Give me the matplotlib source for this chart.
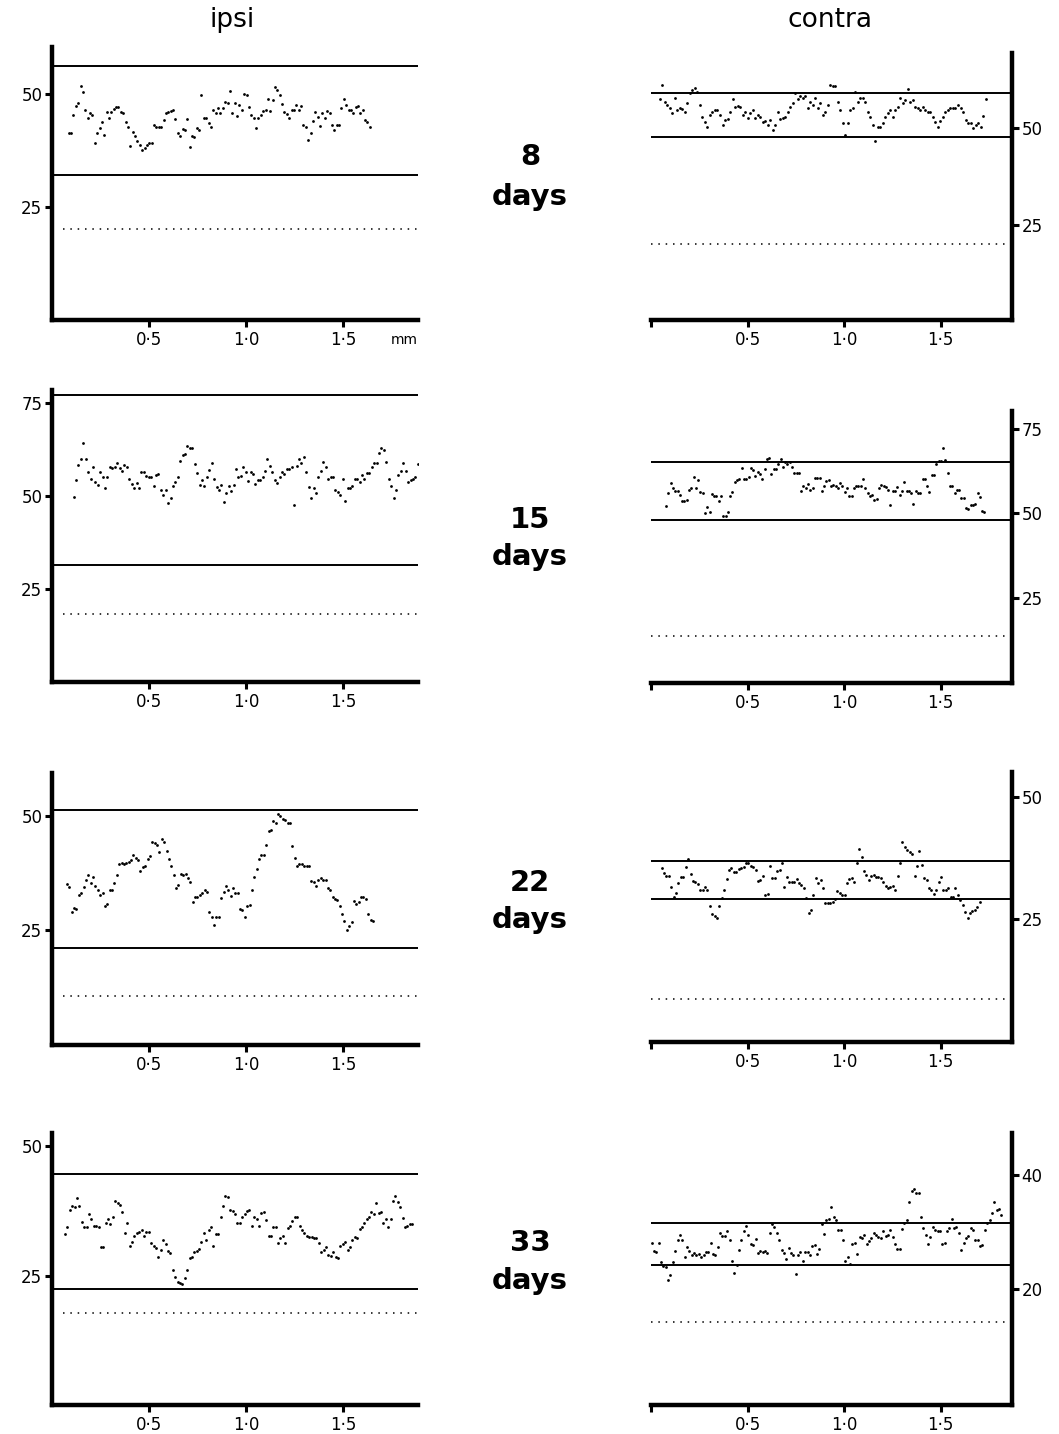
import numpy as np
import matplotlib
matplotlib.use("Agg")
import matplotlib.pyplot as plt

plt.rcParams['font.family'] = ['DejaVu Sans']

# ---------------- data: grain density along the track (mm) ----------------
# ipsi / contra for each survival time; each profile is sampled at even steps
ipsi_8_span = (0.086, 1.637)
ipsi_8 = [41.4, 41.3, 45.4, 47.3, 48.0, 51.8, 50.5, 46.5, 44.6, 45.7, 45.4, 39.1, 41.3, 42.4, 43.7,
          40.9, 46.1, 44.6, 46.1, 46.6, 47.2, 47.2, 46.1, 45.7, 43.9, 42.8, 38.5, 41.7, 40.6, 39.5,
          38.7, 37.6, 38.0, 38.7, 39.1, 39.2, 43.1, 42.6, 42.8, 42.8, 44.2, 45.7, 46.0, 46.3, 46.5,
          44.4, 41.3, 40.7, 42.2, 42.0, 44.4, 38.3, 40.6, 40.4, 42.4, 42.0, 49.8, 44.6, 44.8, 43.5,
          42.8, 46.5, 45.9, 46.8, 45.7, 46.8, 48.3, 48.1, 50.7, 45.7, 47.9, 45.1, 47.6, 46.5, 50.0,
          49.8, 47.1, 45.4, 44.6, 42.4, 44.6, 45.4, 46.3, 46.5, 48.8, 46.2, 48.7, 51.5, 50.9, 49.8,
          47.8, 46.1, 45.6, 44.6, 46.5, 46.5, 47.6, 46.5, 47.3, 43.1, 42.8, 39.8, 41.4, 44.1, 46.1,
          45.0, 42.9, 45.9, 44.6, 46.3, 45.9, 43.1, 42.0, 43.1, 43.1, 46.8, 49.0, 47.6, 46.5, 46.5,
          45.9, 47.1, 47.3, 45.7, 46.5, 44.2, 43.7, 42.8]
ipsi_8_levels = (56.2, 32.1, 20.1)

contra_8_span = (0.046, 1.733)
contra_8 = [57.4, 61.1, 56.8, 55.9, 55.1, 53.8, 57.6, 54.6, 55.1, 54.8, 54.2, 56.4, 58.9, 59.8, 60.2,
            59.3, 55.9, 52.7, 51.4, 50.3, 53.4, 54.2, 54.5, 54.6, 53.4, 50.8, 52.1, 52.2, 54.2, 57.4,
            55.5, 55.7, 55.5, 53.4, 54.2, 52.5, 53.8, 54.6, 52.5, 53.4, 52.7, 51.6, 51.9, 50.8, 52.1,
            49.5, 50.8, 54.2, 52.2, 52.5, 52.9, 54.2, 55.3, 56.5, 58.9, 57.4, 58.1, 57.6, 58.2, 55.1,
            56.8, 55.9, 57.6, 55.1, 56.4, 53.4, 54.2, 55.9, 61.1, 60.7, 60.7, 56.8, 54.6, 51.2, 48.2,
            51.2, 54.6, 55.1, 59.3, 56.8, 57.6, 57.6, 56.8, 54.2, 52.9, 50.8, 46.5, 50.2, 50.3, 51.2,
            52.9, 53.8, 54.6, 52.7, 54.5, 55.3, 57.6, 56.5, 57.2, 60.0, 56.8, 57.2, 55.5, 55.1, 54.6,
            55.3, 54.5, 54.2, 54.2, 52.9, 51.6, 50.3, 51.9, 52.7, 54.2, 54.6, 55.1, 55.1, 55.1, 55.9,
            55.1, 54.2, 52.1, 51.2, 51.2, 49.9, 50.8, 51.2, 50.3, 53.1, 57.4]
contra_8_levels = (58.9, 47.7, 20.2)

ipsi_15_span = (0.111, 1.884)
ipsi_15 = [49.8, 54.3, 58.3, 59.9, 64.2, 59.9, 56.5, 54.5, 57.7, 53.9, 53.0, 56.5, 55.0, 52.1, 55.0,
           57.7, 57.4, 57.7, 58.9, 57.4, 56.8, 58.3, 57.7, 54.7, 53.2, 52.1, 53.6, 52.1, 56.5, 56.5,
           55.4, 55.0, 55.0, 52.7, 55.6, 55.9, 51.6, 50.3, 51.6, 48.2, 49.4, 52.7, 53.9, 55.2, 59.5,
           61.0, 61.3, 63.4, 62.8, 62.8, 58.6, 56.1, 53.0, 54.3, 52.7, 55.2, 57.0, 58.9, 54.5, 52.5,
           51.6, 53.0, 48.5, 50.9, 52.7, 51.4, 53.0, 57.2, 55.0, 55.4, 57.7, 56.5, 54.1, 56.5, 55.9,
           53.2, 54.3, 54.3, 55.2, 56.8, 59.9, 58.1, 56.5, 54.3, 53.4, 55.0, 56.5, 55.9, 57.2, 57.2,
           57.9, 47.6, 58.1, 59.9, 58.8, 60.4, 56.5, 52.5, 49.4, 52.1, 50.7, 55.2, 56.8, 59.2, 57.7,
           54.5, 55.0, 55.0, 51.6, 51.2, 50.3, 54.5, 48.7, 52.1, 52.1, 52.7, 54.5, 54.7, 53.9, 55.6,
           54.5, 56.1, 56.3, 57.7, 58.8, 58.9, 61.6, 62.8, 62.5, 59.2, 54.7, 52.7, 49.4, 51.6, 55.6,
           56.8, 58.8, 56.8, 53.9, 54.3, 54.5, 55.2, 58.6]
ipsi_15_levels = (77.2, 31.5, 18.3)

contra_15_span = (0.078, 1.727)
contra_15 = [52.3, 56.0, 59.0, 57.5, 56.5, 56.5, 55.5, 53.6, 53.6, 53.9, 57.0, 57.5, 60.8, 57.5, 60.0,
             56.2, 56.0, 50.1, 51.9, 50.3, 55.8, 55.0, 55.0, 53.6, 55.2, 49.1, 49.1, 50.3, 55.0, 56.2,
             59.2, 60.0, 60.2, 63.5, 60.2, 60.2, 60.8, 63.5, 62.8, 61.0, 62.2, 61.5, 60.2, 63.0, 66.1,
             66.4, 61.5, 63.0, 63.2, 64.5, 66.0, 63.8, 65.1, 64.5, 65.1, 63.8, 62.0, 62.0, 62.0, 56.5,
             58.2, 57.5, 58.8, 57.0, 57.5, 60.5, 60.5, 60.5, 56.5, 58.0, 59.5, 59.8, 58.0, 58.5, 58.0,
             57.5, 59.0, 58.0, 56.2, 57.5, 55.0, 55.0, 57.5, 58.0, 58.2, 58.0, 60.2, 57.5, 56.0, 55.0,
             55.5, 54.1, 54.3, 57.5, 58.5, 58.0, 57.8, 57.0, 52.6, 56.5, 56.5, 57.8, 55.5, 56.5, 59.2,
             56.5, 56.5, 56.0, 52.9, 56.5, 56.0, 56.0, 60.2, 60.2, 58.2, 56.2, 61.2, 61.2, 64.5, 65.4,
             65.4, 69.4, 65.7, 61.8, 58.2, 58.2, 56.0, 57.0, 57.0, 54.6, 54.6, 51.6, 51.3, 52.6, 52.6,
             52.9, 56.0, 54.9, 50.6, 50.3]
contra_15_levels = (65.1, 48.1, 14.0)

ipsi_22_span = (0.077, 1.653)
ipsi_22 = [35.0, 34.4, 29.0, 29.7, 29.5, 32.6, 33.0, 34.4, 36.0, 37.0, 35.2, 36.6, 34.6, 33.6, 32.6,
           33.0, 30.1, 30.6, 33.7, 33.6, 35.2, 37.0, 39.5, 39.7, 39.5, 39.7, 39.9, 40.3, 41.4, 40.6,
           40.3, 37.9, 38.7, 38.9, 40.4, 41.1, 44.1, 43.9, 43.5, 42.1, 44.8, 44.3, 42.3, 40.4, 38.9,
           37.0, 34.1, 34.8, 37.3, 37.0, 37.3, 36.3, 35.5, 31.1, 32.2, 32.1, 32.6, 33.1, 33.6, 33.3,
           29.0, 27.7, 26.0, 27.7, 27.9, 31.9, 33.3, 34.6, 33.8, 32.4, 34.1, 33.1, 33.0, 29.5, 29.3,
           27.7, 30.1, 30.4, 33.7, 36.6, 38.2, 40.4, 41.4, 41.4, 43.5, 46.7, 46.8, 48.7, 48.4, 50.3,
           49.9, 49.2, 49.0, 48.4, 48.3, 43.3, 40.8, 38.9, 39.5, 39.4, 38.9, 38.9, 38.9, 35.7, 35.5,
           34.6, 35.9, 36.3, 35.9, 35.9, 34.1, 33.8, 32.1, 31.7, 31.5, 30.1, 28.4, 27.0, 24.9, 25.8,
           26.6, 31.4, 30.6, 31.1, 32.2, 32.1, 31.7, 28.4, 27.1, 27.0]
ipsi_22_levels = (51.3, 21.1, 10.5)

contra_22_span = (0.055, 1.702)
contra_22 = [35.5, 34.4, 33.9, 33.9, 31.7, 29.6, 30.3, 32.5, 33.6, 33.6, 35.7, 37.3, 34.3, 32.9, 32.7,
             32.2, 31.0, 31.0, 31.6, 31.0, 27.7, 26.1, 25.7, 25.2, 27.7, 29.3, 30.9, 33.2, 35.1, 35.5,
             34.6, 34.6, 35.2, 35.5, 35.8, 36.5, 36.6, 35.9, 35.7, 35.1, 32.9, 33.1, 33.9, 30.0, 30.2,
             35.9, 33.4, 33.4, 34.8, 35.1, 36.5, 31.7, 33.6, 32.7, 32.7, 32.7, 33.2, 32.5, 32.0, 31.3,
             29.3, 26.2, 26.9, 30.0, 33.4, 32.5, 33.1, 31.3, 28.4, 28.3, 28.4, 28.6, 29.1, 30.7, 30.3,
             30.0, 30.0, 32.4, 33.2, 33.4, 32.7, 36.5, 39.4, 37.7, 34.8, 34.1, 33.1, 33.9, 34.1, 33.7,
             33.6, 33.4, 32.7, 31.8, 31.3, 31.7, 31.8, 31.0, 33.9, 36.6, 40.9, 39.8, 39.1, 38.7, 38.4,
             33.9, 35.9, 38.9, 36.1, 33.4, 33.1, 31.3, 30.9, 30.2, 31.0, 32.7, 33.7, 30.9, 30.9, 31.3,
             29.6, 29.5, 31.3, 30.0, 29.0, 27.9, 26.4, 25.2, 26.2, 26.6, 26.9, 27.6, 28.6]
contra_22_levels = (37.0, 29.1, 8.7)

ipsi_33_span = (0.067, 1.855)
ipsi_33 = [33.1, 34.5, 37.7, 38.4, 38.2, 40.0, 38.5, 35.3, 34.4, 34.5, 36.9, 35.9, 34.6, 34.6, 34.5,
           30.6, 30.6, 35.1, 35.9, 35.0, 36.3, 39.5, 39.1, 38.7, 37.4, 33.3, 35.1, 30.8, 31.6, 32.6,
           33.2, 33.5, 33.8, 32.6, 33.5, 33.5, 31.4, 30.8, 30.3, 28.7, 30.0, 32.0, 31.1, 29.7, 29.3,
           26.1, 24.7, 23.7, 23.5, 23.4, 24.5, 26.1, 28.4, 28.7, 29.5, 29.7, 30.1, 31.6, 33.2, 32.0,
           33.8, 34.4, 30.8, 33.1, 33.1, 36.3, 38.5, 40.4, 40.3, 37.8, 37.6, 36.9, 35.1, 35.1, 36.4,
           36.9, 37.6, 37.7, 34.6, 36.4, 36.0, 34.6, 37.2, 37.4, 35.8, 32.7, 32.6, 34.4, 34.4, 31.4,
           32.2, 32.7, 31.4, 34.2, 34.6, 35.5, 36.3, 36.4, 34.6, 33.8, 33.2, 32.6, 32.4, 32.4, 32.2,
           32.2, 31.4, 29.5, 29.9, 30.6, 29.0, 28.8, 29.5, 28.6, 28.4, 30.8, 31.1, 31.6, 30.0, 30.6,
           32.0, 32.4, 32.2, 34.0, 34.4, 35.1, 35.9, 36.4, 37.4, 36.9, 39.0, 37.2, 37.4, 35.1, 35.9,
           34.5, 35.9, 39.5, 40.4, 39.3, 38.2, 36.1, 34.4, 34.6, 35.0, 35.0]
ipsi_33_levels = (44.7, 22.4, 17.7)

contra_33_span = (0.003, 1.815)
contra_33 = [28.0, 26.7, 26.5, 28.0, 24.6, 23.9, 23.8, 21.5, 22.4, 24.6, 26.7, 28.5, 29.5, 28.6, 25.6,
             27.4, 26.7, 25.9, 26.2, 25.9, 26.1, 25.5, 25.9, 26.4, 26.5, 28.0, 26.1, 25.9, 27.4, 29.8,
             29.2, 29.2, 30.1, 28.5, 24.8, 22.8, 24.2, 26.8, 28.5, 30.1, 31.1, 29.5, 27.9, 27.7, 28.7,
             26.2, 26.7, 26.4, 26.7, 26.2, 29.8, 31.4, 30.8, 29.8, 28.5, 26.8, 26.2, 25.2, 27.1, 26.2,
             25.9, 22.6, 25.9, 26.4, 24.8, 26.4, 26.4, 25.9, 27.5, 27.7, 26.1, 26.9, 31.4, 29.6, 32.0,
             32.2, 34.4, 32.6, 32.0, 30.4, 30.4, 28.5, 24.8, 25.6, 24.4, 27.9, 28.0, 26.1, 29.1, 28.9,
             29.5, 27.9, 28.3, 28.9, 29.8, 29.5, 29.1, 28.9, 30.2, 29.3, 29.5, 30.4, 29.1, 27.9, 26.9,
             26.9, 30.5, 31.5, 32.1, 35.2, 37.1, 37.5, 36.9, 36.8, 32.6, 30.6, 29.5, 27.9, 29.1, 30.9,
             30.4, 30.1, 30.1, 27.9, 28.1, 30.1, 30.6, 32.2, 30.6, 30.9, 29.8, 26.8, 28.1, 28.9, 29.2,
             30.6, 30.4, 28.6, 28.6, 27.5, 27.7, 30.4, 31.5, 32.1, 33.3, 35.2, 33.9, 34.0, 33.0]
contra_33_levels = (31.6, 24.1, 14.2)

days = ["8", "15", "22", "33"]
xticks = [0.5, 1.0, 1.5]
xtick_labels = ["0·5", "1·0", "1·5"]

# ---------------- layout ----------------
W, H = 1059, 1434
fig = plt.figure(figsize=(W / 100, H / 100), dpi=100)


def box(x0, x1, y0, y1):
    # pixel box -> figure fraction
    return [x0 / W, 1 - y1 / H, (x1 - x0) / W, (y1 - y0) / H]


panels = [
    # (values, span, levels, ylim, yticks, side, box)
    (ipsi_8, ipsi_8_span, ipsi_8_levels, (0, 60.4), [25, 50], "left", box(52, 418, 47, 320)),
    (contra_8, contra_8_span, contra_8_levels, (0.5, 69.3), [25, 50], "right", box(651, 1012, 53, 320)),
    (ipsi_15, ipsi_15_span, ipsi_15_levels, (0, 78.5), [25, 50, 75], "left", box(52, 418, 390, 682)),
    (contra_15, contra_15_span, contra_15_levels, (0, 80.2), [25, 50, 75], "right", box(651, 1012, 411, 683)),
    (ipsi_22, ipsi_22_span, ipsi_22_levels, (-0.2, 59.3), [25, 50], "left", box(52, 418, 773, 1045)),
    (contra_22, contra_22_span, contra_22_levels, (-0.2, 55.2), [25, 50], "right", box(651, 1012, 772, 1042)),
    (ipsi_33, ipsi_33_span, ipsi_33_levels, (0, 52.6), [25, 50], "left", box(52, 418, 1133, 1405)),
    (contra_33, contra_33_span, contra_33_levels, (-0.5, 47.4), [20, 40], "right", box(651, 1012, 1133, 1405)),
]

for vals, span, levels, ylim, yticks, side, rect in panels:
    ax = fig.add_axes(rect)
    x = np.linspace(span[0], span[1], len(vals))
    ax.scatter(x, vals, s=4, color="black", linewidths=0, zorder=3)

    upper, lower, base = levels
    ax.axhline(upper, color="black", lw=1.4)
    ax.axhline(lower, color="black", lw=1.4)
    ax.axhline(base, xmin=0.03 if side == "left" else 0.0, color="black",
               lw=1.1, linestyle=(0, (1, 3.8)))

    if side == "left":
        ax.set_xlim(0, 1.885)
        ax.spines[["top", "right"]].set_visible(False)
        ax.spines["left"].set_linewidth(3.2)
        ax.set_xticks(xticks)
        ax.set_xticklabels(xtick_labels)
    else:
        ax.set_xlim(0, 1.87)
        ax.spines[["top", "left"]].set_visible(False)
        ax.spines["right"].set_linewidth(3.2)
        ax.yaxis.tick_right()
        ax.set_xticks([0.0] + xticks)
        ax.set_xticklabels([""] + xtick_labels)
    ax.spines["bottom"].set_linewidth(3.2)
    ax.set_ylim(*ylim)
    ax.set_yticks(yticks)
    ax.tick_params(axis="both", direction="out", length=5, width=2.2,
                   labelsize=12, pad=2)
    ax.tick_params(axis="x", pad=3)
    ax.patch.set_alpha(0)

    if rect == panels[0][6]:
        ax.text(1.0, -0.075, "mm", transform=ax.transAxes, ha="right", va="center", fontsize=10)

# column headings
fig.text(232 / W, 1 - 20 / H, "ipsi", ha="center", va="center", fontsize=19)
fig.text(830 / W, 1 - 20 / H, "contra", ha="center", va="center", fontsize=19)

# survival time labels between the columns
day_y = [(157, 197), (520, 557), (883, 920), (1243, 1281)]
for d, (yn, yd) in zip(days, day_y):
    fig.text(530 / W, 1 - yn / H, d, ha="center", va="center", fontsize=21, fontweight="bold")
    fig.text(530 / W, 1 - yd / H, "days", ha="center", va="center", fontsize=21, fontweight="bold")

fig.savefig("out.png", dpi=100)
